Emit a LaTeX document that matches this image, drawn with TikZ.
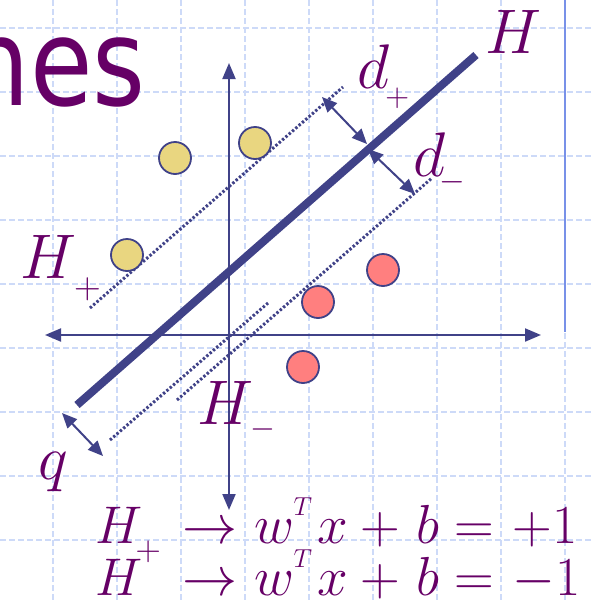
\RequirePackage{fix-cm}
\documentclass[tikz,border=0pt]{standalone}
\usepackage{fontspec}
\usepackage{graphicx}
\usetikzlibrary{arrows.meta}
\newfontfamily\titlefont{DejaVu Sans}
\definecolor{lc}{RGB}{64,66,136}
\definecolor{lab}{RGB}{102,0,102}
\definecolor{gridc}{RGB}{205,218,248}
\definecolor{yel}{RGB}{233,214,128}
\definecolor{redc}{RGB}{255,127,127}
\definecolor{vlinec}{RGB}{120,145,232}
\tikzset{
  gridline/.style={draw=gridc, line width=1.2pt, dash pattern=on 6pt off 3pt},
  axis/.style={draw=lc, line width=2pt, -{Triangle[length=16pt,width=13pt]}},
  margin/.style={draw=lc, line width=3pt, dash pattern=on 2.4pt off 2.0pt},
  hyper/.style={draw=lc, line width=8pt},
  dist/.style={draw=lc, line width=2pt, {Triangle[length=15pt,width=13pt]}-{Triangle[length=15pt,width=13pt]}},
  ypt/.style={circle, draw=lc, fill=yel, line width=1.8pt, minimum size=32pt, inner sep=0},
  rpt/.style={circle, draw=lc, fill=redc, line width=1.8pt, minimum size=32pt, inner sep=0},
  lbl/.style={text=lab, inner sep=0, anchor=base west, font=\fontsize{63}{63}\selectfont},
  eqn/.style={text=lab, inner sep=0, anchor=base west, font=\fontsize{55}{55}\selectfont},
}
\newcommand\subsym[4]{\kern#1\raisebox{#2}{\fontsize{#3}{#3}\selectfont$#4$}}
\newcommand\putat[2]{\rlap{\kern#1#2}}
\newcommand\fs[2]{{\fontsize{#1}{#1}\selectfont#2}}
\newcommand\eqrest[1]{%
  \putat{87pt}{$\to$}%
  \putat{158.5pt}{$w$}%
  \putat{198pt}{\raisebox{28pt}{\fs{26}{$T$}}}%
  \putat{221.5pt}{$x$}%
  \putat{265pt}{$+$}%
  \putat{320.5pt}{$b$}%
  \putat{359pt}{$=$}%
  \putat{417pt}{$#1$}}
\begin{document}
\begin{tikzpicture}[x=1pt,y=-1pt]
\useasboundingbox (0,0) rectangle (591,600);
\clip (0,0) rectangle (591,600);
% grid
\foreach \x in {53,117,...,565} \draw[gridline] (\x,0) -- (\x,600);
\foreach \y in {28,92,...,604} \draw[gridline] (0,\y) -- (591,\y);
\draw[draw=vlinec, line width=2pt] (565,0) -- (565,332);
% title
\node[text=lab, inner sep=0, anchor=base east] (title) at (146,105)
  {\titlefont\fontsize{121}{121}\selectfont\scalebox{0.84}[1]{nes}};
% axes
\coordinate (o) at (229,335);
\coordinate (ytop) at (229,63);
\coordinate (ybot) at (229,510);
\coordinate (xl) at (45,335);
\coordinate (xr) at (541,335);
\draw[axis] (o) -- (ytop);
\draw[axis] (o) -- (ybot);
\draw[axis] (o) -- (xl);
\draw[axis] (o) -- (xr);
% margins
\coordinate (hp1) at (90,308);
\coordinate (hp2) at (343,87);
\coordinate (a1) at (110,440);
\coordinate (a2) at (268,303);
\coordinate (b1) at (177,400);
\coordinate (b2) at (432,178);
\draw[margin] (hp1) -- (hp2);
\draw[margin] (a1) -- (a2);
\draw[margin] (b1) -- (b2);
% points
\node[ypt] (y1) at (175,158) {};
\node[ypt] (y2) at (255,143) {};
\node[ypt] (y3) at (127,255) {};
\node[rpt] (r1) at (383,270) {};
\node[rpt] (r2) at (318,302) {};
\node[rpt] (r3) at (303,367) {};
% hyperplane
\coordinate (h1) at (77,405);
\coordinate (h2) at (476,55);
\draw[hyper] (h1) -- (h2);
% distance arrows
\coordinate (dp1) at (322,97);
\coordinate (dp2) at (367,144);
\coordinate (dm1) at (368,149);
\coordinate (dm2) at (415,194);
\coordinate (q1) at (62,413);
\coordinate (q2) at (103,456);
\draw[dist] (dp1) -- (dp2);
\draw[dist] (dm1) -- (dm2);
\draw[dist] (q1) -- (q2);
% labels
\node[lbl] (lH) at (485,53) {$H$};
\node[lbl] (ldp) at (357,88) {$d$\subsym{-4pt}{-18pt}{33}{+}};
\node[lbl] (ldm) at (413,176) {$d$\subsym{-6pt}{-14pt}{33}{-}};
\node[lbl] (lHp) at (20,278) {$H$\subsym{-2pt}{-20pt}{37}{+}};
\node[lbl] (lHm) at (197,424) {$H$\subsym{-3pt}{-13pt}{32}{-}};
\node[lbl] (lq) at (38,479) {$q$};
\node[eqn] (e1) at (95,543) {%
  \putat{0pt}{\fs{53}{$H$}}%
  \putat{40pt}{\raisebox{-17.5pt}{\fs{35}{$+$}}}%
  \eqrest{+1}};
\node[eqn] (e2) at (95,595) {%
  \putat{0pt}{\fs{53}{$H$}}%
  \eqrest{-1}};
\end{tikzpicture}
\end{document}
